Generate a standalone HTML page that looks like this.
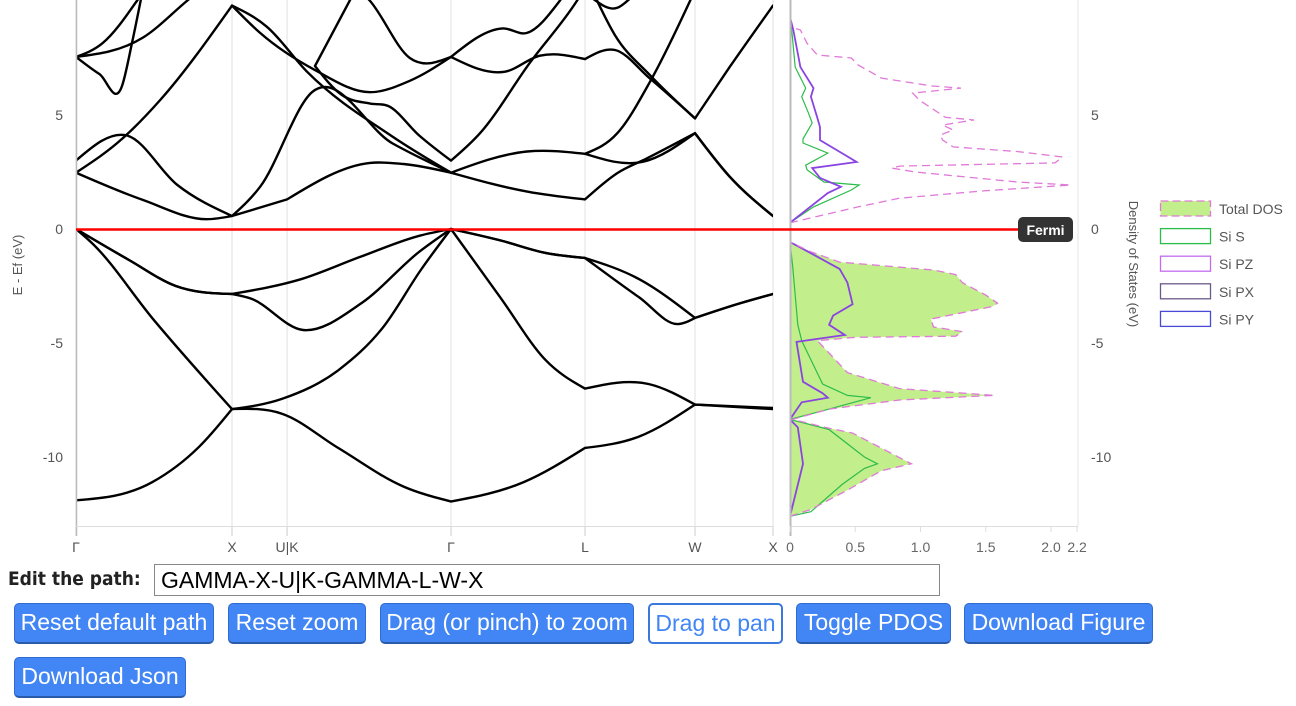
<!DOCTYPE html>
<html><head><meta charset="utf-8"><style>
html,body{margin:0;padding:0;background:#fff;width:1296px;height:706px;overflow:hidden;font-family:"Liberation Sans",Arial,sans-serif}
#chart{position:absolute;left:0;top:0}
.lbl{position:absolute;left:8px;top:568px;font-weight:bold;font-size:19px;color:#222;font-family:"DejaVu Sans Condensed","Liberation Sans",sans-serif}
.inp{position:absolute;left:154px;top:564px;width:778px;height:30px;border:1px solid #888;font-family:"Liberation Sans",Arial,sans-serif;font-size:23px;padding:0 0 0 6px;box-sizing:content-box;color:#000;outline:none}
.btn{position:absolute;height:41px;box-sizing:border-box;background:#4285f4;color:#fff;border:1px solid #2f6bd0;border-bottom:2px solid #2a5aa8;border-radius:5px;font-family:"Liberation Sans",Arial,sans-serif;font-size:23px;padding:0;text-align:center;line-height:37px}
.btn.out{background:#fff;color:#4285f4;border:2px solid #3a78dc}
</style></head><body>
<svg id="chart" width="1296" height="560" xmlns="http://www.w3.org/2000/svg" font-family="Liberation Sans, Arial, sans-serif">
<defs><clipPath id="bandClip"><rect x="76" y="0" width="697" height="526"/></clipPath>
<clipPath id="dosClip"><rect x="790" y="0" width="290" height="526"/></clipPath></defs>
<g id="grid"></g>
<g id="dos" clip-path="url(#dosClip)"></g>
<g id="bands" clip-path="url(#bandClip)"></g>
<g id="axes"></g>
<line x1="76" x2="1072" y1="229.5" y2="229.5" stroke="#ff0000" stroke-width="2.5"/>
<g><rect x="1018" y="217" width="55" height="25" rx="5" fill="#333"/><text x="1045.5" y="235" text-anchor="middle" fill="#fff" font-size="14" font-weight="bold">Fermi</text></g>
<text transform="translate(22,265) rotate(-90)" text-anchor="middle" font-size="13" fill="#555">E - Ef (eV)</text>
<text transform="translate(1129,264) rotate(90)" text-anchor="middle" font-size="13" fill="#555">Density of States (eV)</text>
<g id="legend"></g>
</svg>
<div class="lbl">Edit the path:</div>
<input class="inp" value="GAMMA-X-U|K-GAMMA-L-W-X">
<div class="btn" style="left:14px;top:603px;width:200px">Reset default path</div>
<div class="btn" style="left:228px;top:603px;width:138px">Reset zoom</div>
<div class="btn" style="left:380px;top:603px;width:254px">Drag (or pinch) to zoom</div>
<div class="btn out" style="left:648px;top:603px;width:135px">Drag to pan</div>
<div class="btn" style="left:796px;top:603px;width:155px">Toggle PDOS</div>
<div class="btn" style="left:964px;top:603px;width:189px">Download Figure</div>
<div class="btn" style="left:14px;top:657px;width:172px">Download Json</div>
<script>
// ---- data ----
const kTickPos = [0, 1, 1.353, 2.404, 3.263, 3.968, 4.468];
const kTickLabels = ["Γ", "X", "U|K", "Γ", "L", "W", "X"];
const eTicks = [5, 0, -5, -10];
const dosTicks = [0, 0.5, 1.0, 1.5, 2.0, 2.2];
const dosTickLabels = ["0", "0.5", "1.0", "1.5", "2.0", "2.2"];

const valence1 = [[0,-11.9],[0.49,-11.1],[0.79,-9.55],[1,-7.9],[1.32,-8.1],[1.68,-9.6],[2.1,-11.3],[2.404,-11.95],[2.87,-11.1],[3.263,-9.6],[3.61,-9.1],[3.968,-7.7],[4.468,-7.9]];
const valence2 = [[0,0],[0.1,-0.6],[0.5,-4.0],[1,-7.9],[1.32,-7.45],[1.68,-6.2],[1.97,-4.3],[2.21,-1.8],[2.404,0],[2.72,-3.0],[3.01,-5.75],[3.263,-7.0],[3.67,-6.8],[3.968,-7.7],[4.468,-7.85]];
const valence3 = [[0,0],[0.34,-1.36],[0.64,-2.5],[1,-2.85],[1.12,-3.05],[1.455,-4.43],[1.83,-3.25],[2.2,-1.0],[2.404,0],[2.72,-0.5],[3.01,-1.05],[3.263,-1.27],[3.61,-3.0],[3.859,-4.17],[3.968,-3.9],[4.26,-3.25],[4.468,-2.85]];
const valence4 = [[0,0],[0.34,-1.36],[0.64,-2.5],[1,-2.85],[1.442,-2.2],[1.83,-1.2],[2.2,-0.3],[2.404,0],[2.72,-0.5],[3.01,-1.05],[3.263,-1.27],[3.61,-2.2],[3.968,-3.9],[4.26,-3.25],[4.468,-2.85]];
const conduction1 = [[0,2.47],[0.43,1.27],[0.84,0.43],[1,0.57],[1.353,1.3],[1.885,2.9],[2.1,2.85],[2.404,2.47],[2.9,1.63],[3.263,1.3],[3.47,2.45],[3.66,3.1],[3.968,4.2],[4.19,2.3],[4.468,0.57]];
const conduction2 = [[0,3.0],[0.327,4.1],[0.65,1.93],[1,0.57],[1.18,1.85],[1.513,6.0],[2.03,3.75],[2.404,2.47],[2.891,3.4],[3.263,3.3],[3.635,2.95],[3.968,4.2],[4.19,2.3],[4.468,0.57]];
const conduction3 = [[0,2.47],[0.295,3.95],[0.54,5.66],[1,9.8],[1.224,8.87],[1.481,6.9],[2.03,4.05],[2.404,2.47]];
const conduction4 = [[1.8,10.6],[1.532,7.15],[1.7,5.9],[1.885,5.5],[2.0,5.4],[2.2,4.1],[2.404,3.0],[2.59,4.2],[2.91,7.3],[3.21,10.0],[3.3,11.0]];
const conduction5 = [[1,9.8],[1.18,8.6],[1.532,6.97],[1.885,6.0],[2.14,6.5],[2.404,7.55],[2.75,6.9],[2.974,7.6],[3.263,7.45],[3.455,7.85],[3.679,6.6],[3.968,4.85],[4.19,7.1],[4.468,9.8]];
const conduction6 = [[1.8,10.6],[1.885,10.0],[2.14,7.5],[2.404,7.55],[2.737,8.8],[2.891,8.6],[3.1,10.0],[3.2,11.0]];
const conduction7 = [[3.3,10.6],[3.455,8.5],[3.679,6.75],[3.968,4.85]];
const conduction8 = [[3.263,3.3],[3.47,4.2],[3.679,6.45],[3.936,10.0],[3.99,10.8]];
const conduction9 = [[3.314,10.1],[3.47,9.7],[3.55,10.1]];
const conduction10 = [[0,7.55],[0.15,6.8],[0.295,6.27],[0.36,8.2],[0.42,10.2]];
const conduction11 = [[0,7.55],[0.17,8.15],[0.39,10.0],[0.45,10.6]];
const conduction12 = [[0,7.55],[0.43,8.4],[0.71,10.0],[0.78,10.4]];

const totalValE = [-12.6,-12.3,-11.45,-10.6,-10.3,-8.95,-8.7,-8.35,-7.9,-7.5,-7.3,-7.0,-6.3,-4.9,-4.75,-4.7,-4.5,-4.3,-3.95,-3.4,-3.25,-2.9,-2.35,-2.0,-1.8,-1.45,-1.0,-0.57];
const totalValDos = [0,0.16,0.44,0.7,0.93,0.48,0.27,0.02,0.3,0.84,1.57,0.84,0.44,0.21,0.5,1.27,1.32,1.10,1.08,1.55,1.59,1.5,1.32,1.27,1.10,0.38,0.16,0];
const totalConE = [0.27,0.97,1.35,1.67,1.93,2.06,2.5,2.67,2.76,2.9,3.16,3.4,3.6,3.9,4.12,4.34,4.56,4.78,4.9,5.66,5.96,6.18,6.27,6.62,7.2,7.5,7.63,8.15,8.73,8.86,9.47];
const totalConDos = [0,0.52,0.84,1.48,2.15,1.74,0.96,0.78,0.84,2.03,2.09,1.74,1.25,1.17,1.15,1.25,1.17,1.41,1.19,0.99,0.94,1.31,1.09,0.70,0.52,0.47,0.21,0.13,0.08,0.01,0];
const siSE = [-12.6,-12.4,-11.2,-10.5,-10.3,-10.0,-8.8,-8.35,-7.9,-7.4,-7.3,-6.8,-4.9,-4.2,-1.6,-0.57,0.27,0.97,1.71,1.93,2.06,2.6,2.8,3.33,3.77,3.95,4.65,5.1,5.8,6.18,7.1,8.6,9.3];
const siSDos = [0,0.16,0.4,0.57,0.67,0.57,0.30,0,0.30,0.62,0.44,0.25,0.09,0.06,0.02,0,0,0.18,0.47,0.53,0.26,0.13,0.12,0.29,0.10,0.10,0.17,0.14,0.09,0.12,0.04,0.015,0];
const siPE = [-12.6,-10.3,-8.7,-8.35,-7.6,-7.4,-7.2,-6.7,-4.95,-4.65,-4.2,-3.8,-3.3,-2.35,-1.75,-1.0,-0.57,0.27,1.58,1.85,2.24,2.67,2.94,3.25,3.9,4.47,4.87,5.8,6.18,7.1,8.73,9.3];
const siPDos = [0,0.1,0.06,0,0.09,0.29,0.25,0.1,0.05,0.42,0.3,0.33,0.48,0.44,0.38,0.14,0,0,0.29,0.39,0.23,0.17,0.51,0.42,0.23,0.23,0.21,0.16,0.18,0.08,0.025,0];

const legendLabels = ["Total DOS", "Si S", "Si PZ", "Si PX", "Si PY"];
const legendColors = ["#e07ad8", "#2cbc4a", "#c46cf0", "#6a5a8a", "#4a4ad8"];

// ---- axes ----
const NS = "http://www.w3.org/2000/svg";
const xK = k => 76 + k * 156;
const yE = e => 229 - e * 22.8;
const xD = v => 790 + v * 130.5;
function mk(tag, attrs, parent){const el=document.createElementNS(NS,tag);for(const a in attrs)el.setAttribute(a,attrs[a]);parent.appendChild(el);return el;}
const grid=document.getElementById('grid'), axes=document.getElementById('axes');

kTickPos.forEach((k,i)=>{
  const g=mk('line',{x1:xK(k),x2:xK(k),y1:0,y2:526,stroke:'#e2e2e2','stroke-width':1},grid);
  
  
  const t=mk('line',{x1:xK(k),x2:xK(k),y1:526,y2:536,stroke:'#ccc'},axes);
  
  
  const tx=mk('text',{x:xK(k),y:552,'text-anchor':'middle','font-size':14,fill:'#555'},axes);
  tx.textContent=kTickLabels[i];
  
  
});
mk('line',{x1:76.5,x2:76.5,y1:0,y2:536,stroke:'#bbb','stroke-width':1.5},axes);
mk('line',{x1:76,x2:773,y1:526.5,y2:526.5,stroke:'#ddd'},axes);
mk('line',{x1:790,x2:1078,y1:526.5,y2:526.5,stroke:'#ddd'},axes);
mk('line',{x1:790.5,x2:790.5,y1:0,y2:536,stroke:'#bbb','stroke-width':2},axes);
mk('line',{x1:1078,x2:1078,y1:0,y2:526,stroke:'#e6e6e6'},axes);
dosTicks.forEach((v,i)=>{
  const t=mk('line',{x1:xD(v),x2:xD(v),y1:526,y2:532,stroke:'#ddd'},axes);
  
  
  const tx=mk('text',{x:xD(v),y:552,'text-anchor':'middle','font-size':14,fill:'#666'},axes);
  tx.textContent=dosTickLabels[i];
  
  
});
eTicks.forEach(e=>{
  const a=mk('text',{x:63,y:yE(e)+5,'text-anchor':'end','font-size':14,fill:'#555'},axes);
  a.textContent=String(e);
  
  
  const b=mk('text',{x:1091,y:yE(e)+5,'text-anchor':'start','font-size':14,fill:'#555'},axes);
  b.textContent=String(e);
  
  
});

// ---- bands: smooth cubic within pieces split at high-symmetry points ----
function isTick(k){return kTickPos.some(t=>Math.abs(t-k)<0.005);}
function splitPieces(b){
  const pieces=[];let cur=[b[0]];
  for(let i=1;i<b.length;i++){
    cur.push(b[i]);
    const dirChange = i<b.length-1 && Math.sign(b[i+1][0]-b[i][0])!==Math.sign(b[i][0]-b[i-1][0]);
    if(i<b.length-1 && (isTick(b[i][0])||dirChange)){pieces.push(cur);cur=[b[i]];}
  }
  pieces.push(cur);
  return pieces.map(p=>p[0][0]>p[p.length-1][0]?p.slice().reverse():p);
}
function smoothPath(p){
  const n=p.length, xs=p.map(q=>xK(q[0])), ys=p.map(q=>yE(q[1]));
  let d='M'+xs[0].toFixed(1)+','+ys[0].toFixed(1);
  if(n===2) return d+' L'+xs[1].toFixed(1)+','+ys[1].toFixed(1);
  const s=[];for(let i=0;i<n-1;i++)s.push((ys[i+1]-ys[i])/(xs[i+1]-xs[i]));
  const m=new Array(n);
  for(let i=1;i<n-1;i++){
    const h0=xs[i]-xs[i-1],h1=xs[i+1]-xs[i];
    m[i]=(s[i-1]*h1+s[i]*h0)/(h0+h1);
  }
  m[0]=(3*s[0]-m[1])/2; m[n-1]=(3*s[n-2]-m[n-2])/2;
  for(let i=0;i<n-1;i++){
    const h=(xs[i+1]-xs[i])/3;
    d+=' C'+(xs[i]+h).toFixed(1)+','+(ys[i]+m[i]*h).toFixed(1)+' '+(xs[i+1]-h).toFixed(1)+','+(ys[i+1]-m[i+1]*h).toFixed(1)+' '+xs[i+1].toFixed(1)+','+ys[i+1].toFixed(1);
  }
  return d;
}
const bandsG=document.getElementById('bands');
const allBands=[valence1,valence2,valence3,valence4,conduction1,conduction2,conduction3,conduction4,conduction5,conduction6,conduction7,conduction8,conduction9,conduction10,conduction11,conduction12];
allBands.forEach(b=>{
  const d=splitPieces(b).map(smoothPath).join(' ');
  const p=mk('path',{d:d,fill:'none',stroke:'#000','stroke-width':2.4,'stroke-linejoin':'round','stroke-linecap':'round'},bandsG);
  
  
});

// ---- DOS ----
const dosG=document.getElementById('dos');
function poly(E,V){return E.map((e,i)=>xD(V[i]).toFixed(1)+','+yE(e).toFixed(1)).join(' ');}
const fill=mk('polygon',{points:poly(totalValE,totalValDos)+' '+xD(0)+','+yE(totalValE[totalValE.length-1])+' '+xD(0)+','+yE(totalValE[0]),fill:'#c2ee8c',stroke:'none'},dosG);


const sLine=mk('polyline',{points:poly(siSE,siSDos),fill:'none',stroke:'#2cbc4a','stroke-width':1.2},dosG);


const pLine=mk('polyline',{points:poly(siPE,siPDos),fill:'none',stroke:'#8a44e0','stroke-width':1.8},dosG);


[[totalValE,totalValDos],[totalConE,totalConDos]].forEach(s=>{
  const l=mk('polyline',{points:poly(s[0],s[1]),fill:'none',stroke:'#e07ad8','stroke-width':1.3,'stroke-dasharray':'8,5'},dosG);
  
  
});

// ---- legend ----
const leg=document.getElementById('legend');
legendLabels.forEach((lab,i)=>{
  const y=201+i*27.6;
  const r=mk('rect',{x:1160.5,y:y,width:50,height:15,fill:i==0?'#c2ee8c':'none',stroke:legendColors[i],'stroke-width':1.3,'stroke-dasharray':i==0?'8,4':'none'},leg);
  
  
  const t=mk('text',{x:1219,y:y+13,'font-size':14,fill:'#555'},leg);
  t.textContent=lab;
  
  
});
</script>
</body></html>
